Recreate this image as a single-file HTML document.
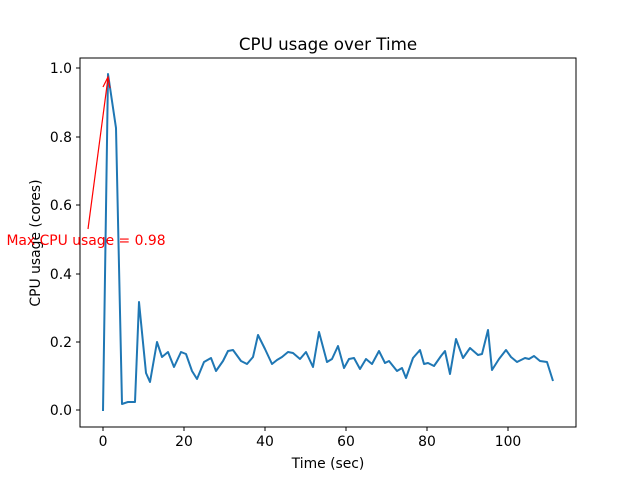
<!DOCTYPE html>
<html><head><meta charset="utf-8"><style>body{margin:0;background:#fff}svg{display:block}text{font-family:"DejaVu Sans","Liberation Sans",sans-serif;fill:#000}</style></head>
<body>
<svg width="640" height="480" viewBox="0 0 640 480" xmlns="http://www.w3.org/2000/svg">
<rect width="640" height="480" fill="#fff"/>
<polyline fill="none" stroke="#1f77b4" stroke-width="2" stroke-linejoin="round" points="103,411 108,74 116,128 122,404 128,402 135,402 139,302 146,373 150,382 157,342 162,357 168,352 174,367 181,352 186,354 192,371 197,379 204,362 211,358 216,371 223,361 228,351 233,350 241,361 247,364 253,357 258,335 265,349 272,364 277,360 282,357 288,352 293,353 300,359 306,352 313,367 319,332 327,362 332,359 338,346 344,368 349,359 354,358 360,369 366,359 372,364 379,351 385,363 389,361 397,371 402,368 406,378 413,358 420,350 424,364 428,363 434,366 441,356 445,351 450,374 456,339 463,358 470,348 478,355 482,354 488,330 492,370 499,359 506,350 511,357 517,362 525,358 529,359 534,356 540,361 547,362 553,381"/>
<rect x="80" y="58" width="496" height="369" fill="none" stroke="#000" stroke-width="1"/>
<g stroke="#000" stroke-width="1">
<line x1="103" y1="427" x2="103" y2="431"/><line x1="184" y1="427" x2="184" y2="431"/><line x1="265" y1="427" x2="265" y2="431"/><line x1="346" y1="427" x2="346" y2="431"/><line x1="427" y1="427" x2="427" y2="431"/><line x1="508" y1="427" x2="508" y2="431"/>
<line x1="76" y1="410" x2="80" y2="410"/><line x1="76" y1="342" x2="80" y2="342"/><line x1="76" y1="274" x2="80" y2="274"/><line x1="76" y1="205" x2="80" y2="205"/><line x1="76" y1="137" x2="80" y2="137"/><line x1="76" y1="68" x2="80" y2="68"/>
</g>
<g font-size="13.9" text-anchor="middle">
<text x="103" y="446">0</text><text x="184" y="446">20</text><text x="265" y="446">40</text><text x="346" y="446">60</text><text x="427" y="446">80</text><text x="508" y="446">100</text>
</g>
<g font-size="13.9" text-anchor="end">
<text x="72" y="415">0.0</text><text x="72" y="347">0.2</text><text x="72" y="279">0.4</text><text x="72" y="210">0.6</text><text x="72" y="142">0.8</text><text x="72" y="73">1.0</text>
</g>
<text x="328" y="468" font-size="13.9" text-anchor="middle">Time (sec)</text>
<text transform="translate(40,243) rotate(-90)" font-size="13.9" text-anchor="middle">CPU usage (cores)</text>
<text x="328" y="50" font-size="16.7" text-anchor="middle">CPU usage over Time</text>
<line x1="88" y1="229" x2="108" y2="78" stroke="red" stroke-width="1.2"/>
<polyline points="103,87 108,77 110,88" fill="none" stroke="red" stroke-width="1.2"/>
<text x="86" y="245" font-size="13.9" text-anchor="middle" style="fill:red">Max CPU usage = 0.98</text>
</svg>
</body></html>
